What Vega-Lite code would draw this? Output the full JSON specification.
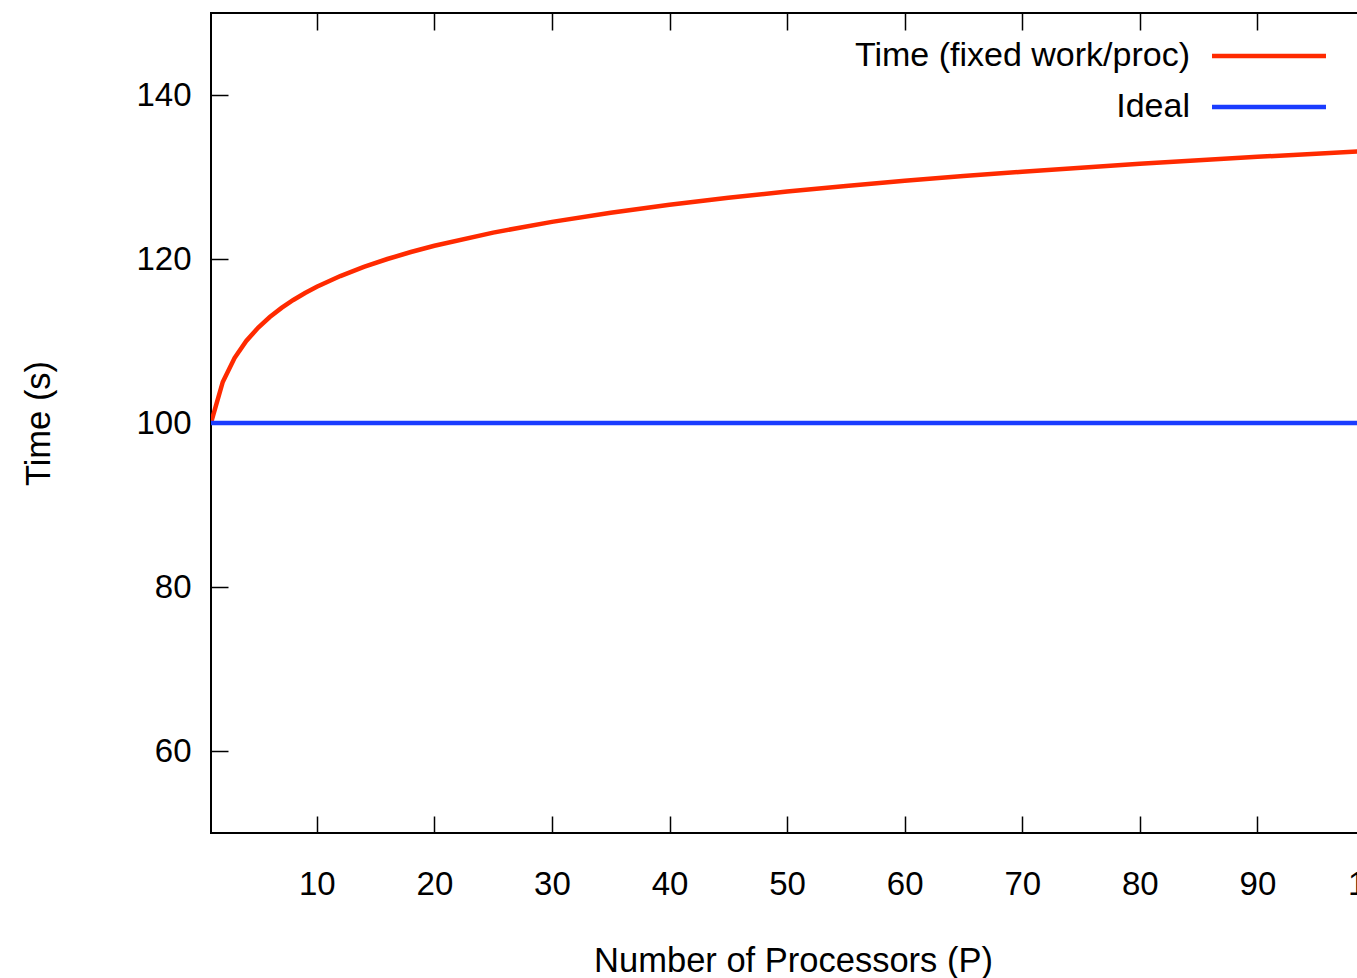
{
  "$schema": "https://vega.github.io/schema/vega-lite/v6.json",
  "autosize": "none",
  "padding": {"left": 211, "top": 13, "right": -18, "bottom": 145},
  "width": 1164,
  "height": 820,
  "background": "white",
  "data": {"values": [
    {"P": 1, "T": 100, "series": "Time (fixed work/proc)"},
    {"P": 2, "T": 105, "series": "Time (fixed work/proc)"},
    {"P": 3, "T": 107.92, "series": "Time (fixed work/proc)"},
    {"P": 4, "T": 110, "series": "Time (fixed work/proc)"},
    {"P": 5, "T": 111.61, "series": "Time (fixed work/proc)"},
    {"P": 6, "T": 112.92, "series": "Time (fixed work/proc)"},
    {"P": 7, "T": 114.04, "series": "Time (fixed work/proc)"},
    {"P": 8, "T": 115, "series": "Time (fixed work/proc)"},
    {"P": 9, "T": 115.85, "series": "Time (fixed work/proc)"},
    {"P": 10, "T": 116.61, "series": "Time (fixed work/proc)"},
    {"P": 12, "T": 117.92, "series": "Time (fixed work/proc)"},
    {"P": 14, "T": 119.04, "series": "Time (fixed work/proc)"},
    {"P": 16, "T": 120, "series": "Time (fixed work/proc)"},
    {"P": 18, "T": 120.85, "series": "Time (fixed work/proc)"},
    {"P": 20, "T": 121.61, "series": "Time (fixed work/proc)"},
    {"P": 25, "T": 123.22, "series": "Time (fixed work/proc)"},
    {"P": 30, "T": 124.53, "series": "Time (fixed work/proc)"},
    {"P": 35, "T": 125.65, "series": "Time (fixed work/proc)"},
    {"P": 40, "T": 126.61, "series": "Time (fixed work/proc)"},
    {"P": 45, "T": 127.46, "series": "Time (fixed work/proc)"},
    {"P": 50, "T": 128.22, "series": "Time (fixed work/proc)"},
    {"P": 55, "T": 128.91, "series": "Time (fixed work/proc)"},
    {"P": 60, "T": 129.53, "series": "Time (fixed work/proc)"},
    {"P": 65, "T": 130.11, "series": "Time (fixed work/proc)"},
    {"P": 70, "T": 130.65, "series": "Time (fixed work/proc)"},
    {"P": 75, "T": 131.14, "series": "Time (fixed work/proc)"},
    {"P": 80, "T": 131.61, "series": "Time (fixed work/proc)"},
    {"P": 85, "T": 132.05, "series": "Time (fixed work/proc)"},
    {"P": 90, "T": 132.46, "series": "Time (fixed work/proc)"},
    {"P": 95, "T": 132.85, "series": "Time (fixed work/proc)"},
    {"P": 100, "T": 133.22, "series": "Time (fixed work/proc)"},
    {"P": 1, "T": 100, "series": "Ideal"},
    {"P": 100, "T": 100, "series": "Ideal"}
  ]},
  "layer": [
    {
      "mark": {"type": "line", "strokeWidth": 4.5, "clip": true},
      "encoding": {
        "x": {
          "field": "P", "type": "quantitative",
          "scale": {"domain": [1, 100], "nice": false, "zero": false},
          "axis": {
            "orient": "bottom",
            "values": [10, 20, 30, 40, 50, 60, 70, 80, 90, 100],
            "title": "Number of Processors (P)",
            "titlePadding": 43,
            "labelPadding": 52,
            "labelFlush": false
          }
        },
        "y": {
          "field": "T", "type": "quantitative",
          "scale": {"domain": [50, 150], "nice": false, "zero": false},
          "axis": {
            "values": [60, 80, 100, 120, 140],
            "title": "Time (s)",
            "titlePadding": 79,
            "labelPadding": 37,
            "labelFlush": false
          }
        },
        "color": {
          "field": "series", "type": "nominal",
          "scale": {"domain": ["Time (fixed work/proc)", "Ideal"], "range": ["#ff2a00", "#1a3cff"]},
          "legend": {
            "orient": "none",
            "legendX": 1041,
            "legendY": 26,
            "title": null,
            "direction": "vertical",
            "symbolType": "M-8,0H8",
            "symbolSize": 203,
            "symbolStrokeWidth": 4.5,
            "labelFontSize": 34,
            "labelFont": "Liberation Sans",
            "labelColor": "black",
            "labelAlign": "right",
            "labelOffset": -96,
            "labelLimit": 0,
            "rowPadding": 17
          }
        }
      }
    },
    {
      "mark": {"type": "line", "opacity": 0},
      "encoding": {
        "x": {
          "field": "P", "type": "quantitative",
          "axis": {"orient": "top", "values": [10, 20, 30, 40, 50, 60, 70, 80, 90, 100], "labels": false, "title": null}
        },
        "y": {
          "field": "T", "type": "quantitative",
          "axis": {
            "values": [60, 80, 100, 120, 140],
            "title": "Time (s)",
            "titlePadding": 79,
            "labelPadding": 37,
            "labelFlush": false
          }
        },
        "detail": {"field": "series"}
      }
    }
  ],
  "resolve": {"axis": {"x": "independent"}},
  "config": {
    "view": {"stroke": "black", "strokeWidth": 2},
    "axis": {
      "domain": false,
      "grid": false,
      "ticks": true,
      "tickSize": -17,
      "tickColor": "black",
      "tickWidth": 1.5,
      "labelFont": "Liberation Sans",
      "labelFontSize": 33,
      "labelColor": "black",
      "titleFont": "Liberation Sans",
      "titleFontSize": 34.5,
      "titleFontWeight": "normal",
      "titleColor": "black"
    }
  }
}
